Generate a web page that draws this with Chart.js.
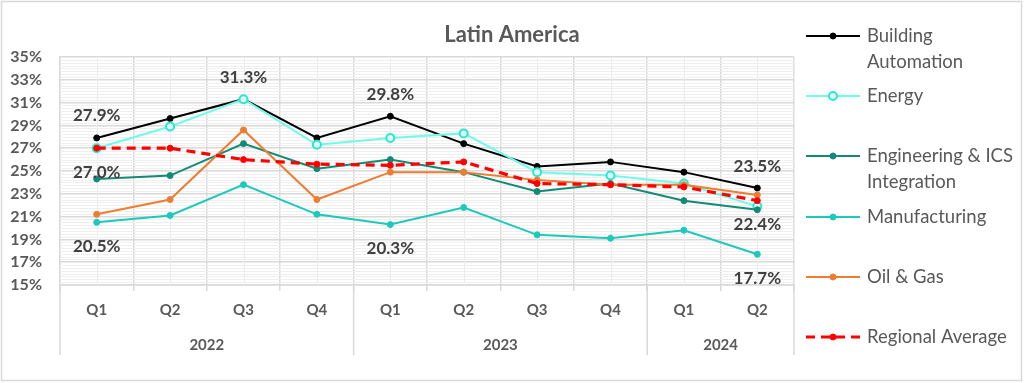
<!DOCTYPE html>
<html>
<head>
<meta charset="utf-8">
<script src="https://cdn.jsdelivr.net/npm/chart.js@4/dist/chart.umd.min.js"></script>
<style>
  html, body { margin: 0; padding: 0; background: #fff; }
  #wrap { width: 1024px; height: 383px; }
</style>
</head>
<body>
<div id="wrap"><canvas id="latamChart" width="1024" height="383"></canvas></div>
<script>
// quarters along the axis, years grouped under them
const quarters = ['Q1', 'Q2', 'Q3', 'Q4', 'Q1', 'Q2', 'Q3', 'Q4', 'Q1', 'Q2'];
const years = ['2022', '2023', '2024'];
const yearSpans = [4, 4, 2];

// values in %
const buildingAutomation = [27.9, 29.6, 31.3, 27.9, 29.8, 27.4, 25.4, 25.8, 24.9, 23.5];
const energy = [27.0, 28.9, 31.3, 27.3, 27.9, 28.3, 24.9, 24.6, 23.9, 21.9];
const engineering = [24.3, 24.6, 27.4, 25.2, 26.0, 24.9, 23.2, 23.9, 22.4, 21.6];
const manufacturing = [20.5, 21.1, 23.8, 21.2, 20.3, 21.8, 19.4, 19.1, 19.8, 17.7];
const oilGas = [21.2, 22.5, 28.6, 22.5, 24.9, 24.9, 24.2, 23.8, 23.8, 22.9];
const regionalAverage = [27.0, 27.0, 26.0, 25.6, 25.5, 25.8, 23.9, 23.8, 23.6, 22.4];

const yTicks = [15, 17, 19, 21, 23, 25, 27, 29, 31, 33, 35];

// which points get a value label (dataset index, point index, side)
const pointLabels = [
  [0, 0, 'above'], [0, 2, 'above'], [0, 4, 'above'], [0, 9, 'above'],
  [5, 0, 'below'], [5, 9, 'below'],
  [3, 0, 'below'], [3, 4, 'below'], [3, 9, 'below']
];

const FONT = 'Lato, "Open Sans", sans-serif';
const GREY = '#595959';

const series = [
  { label: ['Building', 'Automation'], data: buildingAutomation, color: '#000000' },
  { label: ['Energy'], data: energy, color: '#6ffbe9', point: '#2ee6cf', fill: '#d9fff8', r: 4 },
  { label: ['Engineering & ICS', 'Integration'], data: engineering, color: '#138a74' },
  { label: ['Manufacturing'], data: manufacturing, color: '#1cc9bb' },
  { label: ['Oil & Gas'], data: oilGas, color: '#ed7d31' },
  { label: ['Regional Average'], data: regionalAverage, color: '#ff0000', dash: [9, 6], width: 3.2 }
];

const datasets = series.map((s, i) => ({
  label: s.label.join(' '),
  data: s.data,
  borderColor: s.color,
  backgroundColor: s.fill || s.point || s.color,
  pointBorderColor: s.point || s.color,
  pointBackgroundColor: s.fill || s.point || s.color,
  pointRadius: s.r || 3,
  pointBorderWidth: s.fill ? 2 : 1,
  borderWidth: s.width || 2,
  borderDash: s.dash || [],
  tension: 0,
  order: series.length - i
}));

const legendY = [36, 96, 156, 217, 277, 337];

const extras = {
  id: 'extras',
  beforeDatasetsDraw(chart) {
    const { ctx, chartArea: a, scales: { x, y } } = chart;
    ctx.save();
    // minor horizontal grid
    ctx.strokeStyle = '#efefef';
    ctx.lineWidth = 1;
    for (let v = 15; v < 35; v += 0.25) {
      if (Math.abs((v - 15) % 2) < 0.01) continue;
      const py = Math.round(y.getPixelForValue(v)) + 0.5;
      ctx.beginPath(); ctx.moveTo(a.left, py); ctx.lineTo(a.right, py); ctx.stroke();
    }
    // light lines at category centres
    ctx.strokeStyle = '#ececec';
    quarters.forEach((q, i) => {
      const px = Math.round(x.getPixelForValue(i)) + 0.5;
      ctx.beginPath(); ctx.moveTo(px, a.top); ctx.lineTo(px, a.bottom); ctx.stroke();
    });
    ctx.restore();
  },
  afterDraw(chart) {
    const { ctx, chartArea: a, scales: { x } } = chart;
    ctx.save();
    // outer border
    ctx.strokeStyle = '#d9d9d9';
    ctx.lineWidth = 1.5;
    ctx.strokeRect(1.5, 1.5, 1020, 379);

    // title
    ctx.fillStyle = GREY;
    ctx.font = 'bold 22px ' + FONT;
    ctx.textAlign = 'center';
    ctx.textBaseline = 'middle';
    ctx.fillText('Latin America', 512, 35);

    // year groups
    ctx.strokeStyle = '#d9d9d9';
    ctx.lineWidth = 1.5;
    ctx.font = 'bold 15px ' + FONT;
    let start = 0;
    const edges = [a.left];
    years.forEach((yr, k) => {
      const end = start + yearSpans[k] - 1;
      const l = start === 0 ? a.left : (x.getPixelForValue(start - 1) + x.getPixelForValue(start)) / 2;
      const r = end === quarters.length - 1 ? a.right : (x.getPixelForValue(end) + x.getPixelForValue(end + 1)) / 2;
      edges.push(r);
      ctx.fillText(yr, (l + r) / 2, 345);
      start = end + 1;
    });
    edges.forEach(px => {
      ctx.beginPath(); ctx.moveTo(px, a.bottom); ctx.lineTo(px, 355); ctx.stroke();
    });

    // value labels
    ctx.fillStyle = '#404040';
    ctx.font = 'bold 17px ' + FONT;
    pointLabels.forEach(([d, i, side]) => {
      const pt = chart.getDatasetMeta(d).data[i];
      const val = chart.data.datasets[d].data[i];
      ctx.fillText(val.toFixed(1) + '%', pt.x, side === 'above' ? pt.y - 22 : pt.y + 24);
    });

    // legend
    ctx.font = '18.5px ' + FONT;
    ctx.textAlign = 'left';
    series.forEach((s, i) => {
      const ly = legendY[i];
      ctx.strokeStyle = s.color;
      ctx.lineWidth = s.width || 2;
      ctx.setLineDash(s.dash || []);
      ctx.beginPath(); ctx.moveTo(806, ly); ctx.lineTo(860, ly); ctx.stroke();
      ctx.setLineDash([]);
      ctx.beginPath();
      ctx.arc(833, ly, s.r || 3, 0, Math.PI * 2);
      ctx.fillStyle = s.fill || s.point || s.color;
      ctx.fill();
      ctx.lineWidth = s.fill ? 2 : 1;
      ctx.strokeStyle = s.point || s.color;
      ctx.stroke();
      ctx.fillStyle = GREY;
      s.label.forEach((t, j) => ctx.fillText(t, 867, ly + j * 26));
    });
    ctx.restore();
  }
};

const ctx = document.getElementById('latamChart').getContext('2d');

const chart = new Chart(ctx, {
  type: 'line',
  data: { labels: quarters, datasets: datasets },
  options: {
    responsive: false,
    animation: false,
    layout: { padding: { top: 57, right: 230, left: 0, bottom: 0 } },
    plugins: {
      legend: { display: false },
      tooltip: { enabled: false },
      title: { display: false }
    },
    scales: {
      x: {
        offset: true,
        grid: { offset: true, color: '#d9d9d9', lineWidth: 1.5, tickLength: 6 },
        border: { color: '#d9d9d9', width: 1.5 },
        ticks: { color: GREY, font: { family: FONT, size: 15, weight: 'bold' }, padding: 10, maxRotation: 0 },
        afterFit(scale) { scale.height = 98; }
      },
      y: {
        min: 15,
        max: 35,
        afterBuildTicks(scale) { scale.ticks = yTicks.map(v => ({ value: v })); },
        grid: { color: '#d9d9d9', lineWidth: 1.5, drawTicks: false },
        border: { color: '#d9d9d9', width: 1.5 },
        ticks: {
          color: GREY,
          font: { family: FONT, size: 16, weight: 'bold' },
          padding: 18,
          callback: v => v + '%'
        },
        afterFit(scale) { scale.width = 60; }
      }
    }
  },
  plugins: [extras]
});
</script>
</body>
</html>
